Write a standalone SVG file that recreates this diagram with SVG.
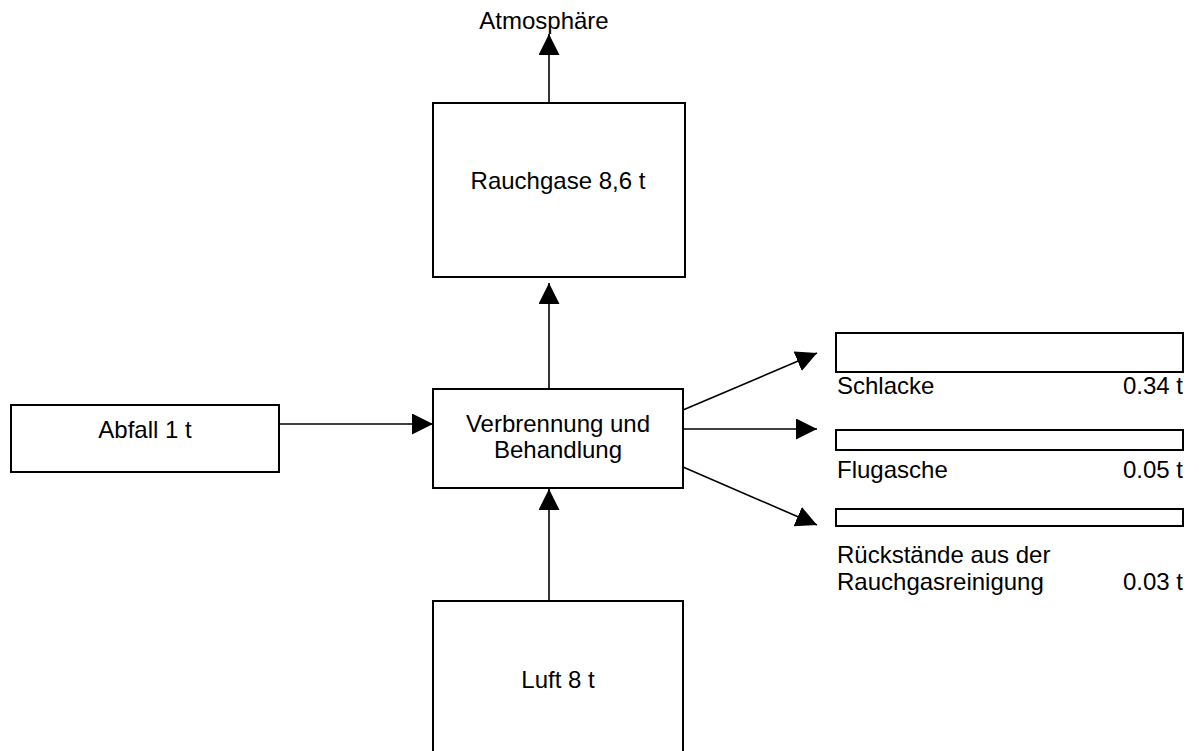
<svg xmlns="http://www.w3.org/2000/svg" width="1199" height="751" viewBox="0 0 1199 751">
<style>
  .box { fill: #ffffff; stroke: #000000; stroke-width: 2; }
  .lbl { font-family: "Liberation Sans", Arial, sans-serif; font-size: 24px; fill: #000000; }
  .mid { text-anchor: middle; }
  .end { text-anchor: end; }
  .conn { stroke: #000000; stroke-width: 1.6; fill: none; marker-end: url(#arr); }
</style>
<defs>
  <marker id="arr" markerUnits="userSpaceOnUse" markerWidth="21" markerHeight="21" refX="21" refY="10.5" orient="auto" viewBox="0 0 21 21">
    <path d="M0,0 L21,10.5 L0,21 Z" fill="#000000"/>
  </marker>
</defs>
<rect width="1199" height="751" fill="#ffffff"/>

<g id="connectors">
  <line class="conn" x1="549" y1="103" x2="549" y2="34"/>
  <line class="conn" x1="549" y1="388" x2="549" y2="283"/>
  <line class="conn" x1="279" y1="424" x2="433" y2="424"/>
  <line class="conn" x1="549" y1="601" x2="549" y2="489"/>
  <line class="conn" x1="683" y1="410" x2="817" y2="353"/>
  <line class="conn" x1="683" y1="429" x2="817" y2="429"/>
  <line class="conn" x1="683" y1="467" x2="817" y2="525"/>
</g>

<g id="atmosphaere">
  <text class="lbl mid" x="544" y="29">Atmosphäre</text>
</g>

<g id="rauchgase">
  <rect class="box" x="433" y="103" width="252" height="174"/>
  <text class="lbl mid" x="558" y="189">Rauchgase 8,6 t</text>
</g>

<g id="abfall">
  <rect class="box" x="11" y="405" width="268" height="67"/>
  <text class="lbl mid" x="145" y="438">Abfall 1 t</text>
</g>

<g id="verbrennung">
  <rect class="box" x="433" y="389" width="250" height="99"/>
  <text class="lbl mid" x="558" y="432">Verbrennung und</text>
  <text class="lbl mid" x="558" y="458">Behandlung</text>
</g>

<g id="luft">
  <path class="box" d="M433,760 L433,601 L683,601 L683,760"/>
  <text class="lbl mid" x="558" y="688">Luft 8 t</text>
</g>

<g id="schlacke">
  <rect class="box" x="836" y="333" width="347" height="39"/>
  <text class="lbl" x="837" y="394">Schlacke</text>
  <text class="lbl end" x="1183" y="394">0.34 t</text>
</g>

<g id="flugasche">
  <rect class="box" x="836" y="430" width="347" height="20"/>
  <text class="lbl" x="837" y="478">Flugasche</text>
  <text class="lbl end" x="1183" y="478">0.05 t</text>
</g>

<g id="rueckstaende">
  <rect class="box" x="836" y="509" width="347" height="17"/>
  <text class="lbl" x="837" y="563">Rückstände aus der</text>
  <text class="lbl" x="837" y="590">Rauchgasreinigung</text>
  <text class="lbl end" x="1183" y="590">0.03 t</text>
</g>
</svg>
